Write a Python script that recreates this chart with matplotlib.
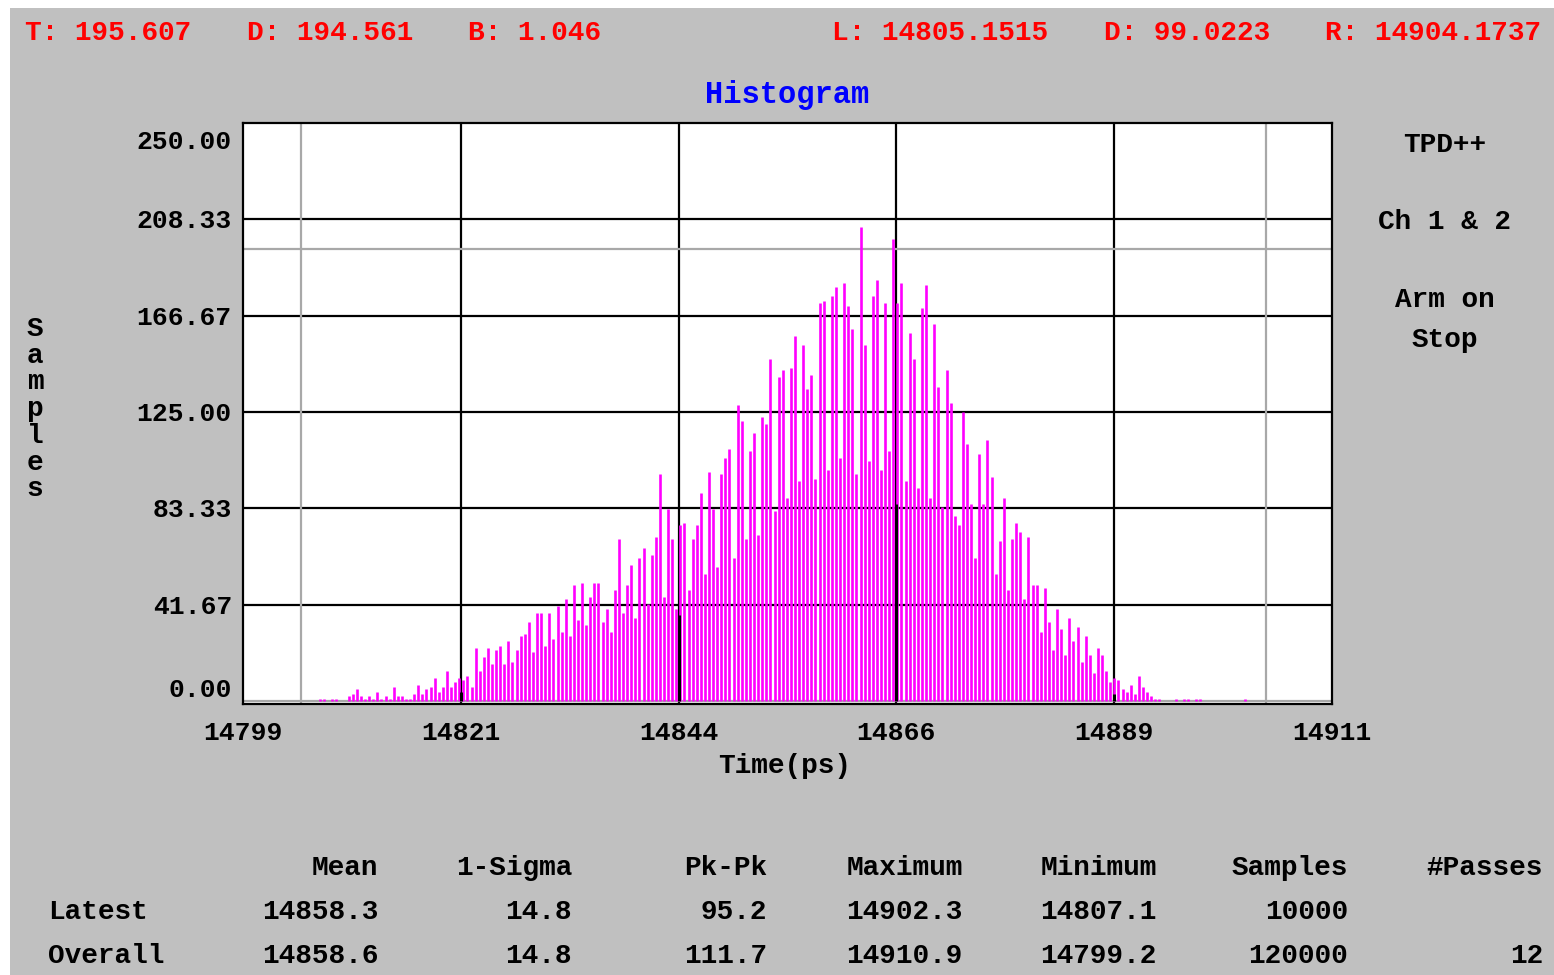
import matplotlib
matplotlib.use("Agg")
import matplotlib.pyplot as plt
from matplotlib.patches import Rectangle
from matplotlib.transforms import blended_transform_factory
import numpy as np

W, H = 1554, 975

# histogram of the latest run: 0.42 ps bins from the latest minimum
bin_start = 14807.1
bin_width = 0.42
counts = [
    1, 1, 0, 1, 1, 0, 0, 2, 3, 5,
    2, 1, 2, 1, 4, 1, 2, 1, 6, 2,
    2, 1, 1, 3, 7, 3, 5, 6, 10, 4,
    6, 13, 6, 8, 10, 9, 11, 6, 23, 13,
    19, 23, 16, 22, 24, 16, 26, 17, 22, 28,
    29, 34, 21, 38, 38, 24, 38, 27, 41, 30,
    44, 28, 50, 35, 51, 33, 45, 51, 51, 34,
    40, 30, 48, 70, 38, 50, 59, 36, 62, 66,
    42, 63, 71, 98, 45, 83, 70, 40, 76, 77,
    48, 70, 76, 90, 55, 99, 83, 58, 98, 105,
    109, 62, 128, 121, 70, 108, 116, 72, 123, 120,
    148, 82, 140, 143, 88, 144, 158, 95, 154, 135,
    141, 96, 172, 173, 100, 175, 179, 105, 181, 171,
    161, 98, 205, 154, 104, 175, 182, 100, 172, 108,
    200, 172, 181, 95, 159, 148, 92, 170, 180, 88,
    163, 136, 84, 143, 129, 80, 76, 125, 111, 85,
    62, 107, 85, 113, 97, 55, 69, 88, 48, 70,
    77, 73, 44, 71, 50, 50, 30, 49, 34, 22,
    40, 31, 20, 36, 26, 32, 17, 28, 20, 12,
    23, 20, 13, 8, 10, 9, 5, 4, 7, 3,
    11, 6, 4, 2, 1, 1, 0, 0, 0, 1,
    0, 1, 1, 0, 1, 1, 0, 0, 0, 0,
    0, 0, 0, 0, 0, 0, 1, 0,
]

# black bars where the histogram sits on the inner vertical grid lines
grid_mark_heights = [4, 37, 85, 3]

t_level = 195.607
l_cursor = 14805.1515
r_cursor = 14904.1737

x_min, x_max = 14799.2, 14910.9
y_max = 250.0
x_tick_labels = ["14799", "14821", "14844", "14866", "14889", "14911"]

readouts = ["T: 195.607", "D: 194.561", "B: 1.046",
            "L: 14805.1515", "D: 99.0223", "R: 14904.1737"]
side_labels = ["TPD++", "Ch 1 & 2", "Arm on", "Stop"]

stat_cols = ["Mean", "1-Sigma", "Pk-Pk", "Maximum", "Minimum", "Samples", "#Passes"]
row_names = ["Latest", "Overall"]
latest = ["14858.3", "14.8", "95.2", "14902.3", "14807.1", "10000", ""]
overall = ["14858.6", "14.8", "111.7", "14910.9", "14799.2", "120000", "12"]

FONT = "Liberation Mono"
GREY = "#A8A8A8"


def fx(x):
    return x / W


def fy(y):
    return 1 - y / H


fig = plt.figure(figsize=(W / 100, H / 100), dpi=100, facecolor="white")
fig.patches.append(Rectangle((fx(10), 0), 1 - fx(10), fy(8), transform=fig.transFigure,
                             facecolor="#C0C0C0", edgecolor="none", zorder=-10))

ax = fig.add_axes([fx(243), fy(704), fx(1332 - 243), (704 - 123) / H])
ax.set_facecolor("white")
ax.set_xlim(x_min, x_max)
ax.set_ylim(-1.3, y_max)

x_ticks = np.linspace(x_min, x_max, 6)
y_ticks = np.linspace(0, y_max, 7)

for x in x_ticks[1:-1]:
    ax.axvline(x, color="black", lw=1.6, zorder=1)
for y in y_ticks[1:-1]:
    ax.axhline(y, color="black", lw=1.6, zorder=1)
ax.axhline(0, color=GREY, lw=1.6, zorder=1)
ax.axhline(t_level, color=GREY, lw=1.6, zorder=1.5)
ax.axvline(l_cursor, color=GREY, lw=1.6, zorder=1.5)
ax.axvline(r_cursor, color=GREY, lw=1.6, zorder=1.5)

centers = bin_start + bin_width * np.arange(len(counts))
ax.vlines(centers, 0, counts, color="#FF00FF", lw=1.9, zorder=3)
ax.vlines(x_ticks[1:-1], 0, grid_mark_heights, color="black", lw=2.2, zorder=4)

for s in ax.spines.values():
    s.set_color("black")
    s.set_linewidth(1.6)

ax.set_xticks(x_ticks, x_tick_labels)
ax.set_yticks(y_ticks, [])
ax.tick_params(length=0)
ax.tick_params(axis="x", pad=12)
for lab in ax.get_xticklabels():
    lab.set_fontfamily(FONT)
    lab.set_fontweight("bold")
    lab.set_fontsize(19)

# y tick labels: the end ones are pulled inside the frame
ytrans = blended_transform_factory(fig.transFigure, ax.transData)
y_label_shift = [-11, 2, 2, 2, 2, 2, 19]
for v, dy in zip(y_ticks, y_label_shift):
    t = ax.text(fx(232), v, f"{v:.2f}", transform=ytrans, ha="right", va="center",
                family=FONT, weight="bold", fontsize=19)
    t.set_transform(ytrans + matplotlib.transforms.ScaledTranslation(0, -dy / 100, fig.dpi_scale_trans))

txt = dict(family=FONT, weight="bold", fontsize=20)

fig.text(fx(787), fy(95), "Histogram", color="#0000FF", ha="center", va="center",
         family=FONT, weight="bold", fontsize=22)
fig.text(fx(785), fy(766), "Time(ps)", color="black", ha="center", va="center", **txt)
for k, ch in enumerate("Samples"):
    fig.text(fx(35), fy(329 + 26.7 * k), ch, color="black", ha="center", va="center", **txt)

for s, x in zip(readouts, [25, 247, 468, 832, 1104, 1325]):
    fig.text(fx(x), fy(33), s, color="#FF0000", ha="left", va="center", **txt)

for s, y in zip(side_labels, [145, 222, 300, 340]):
    fig.text(fx(1445), fy(y), s, color="black", ha="center", va="center", **txt)

col_right = [378, 572, 767, 963, 1157, 1348, 1543]
for s, x in zip(stat_cols, col_right):
    fig.text(fx(x), fy(868), s, ha="right", va="center", **txt)
for row, vals, y in zip(row_names, [latest, overall], [912, 956]):
    fig.text(fx(48), fy(y), row, ha="left", va="center", **txt)
    for s, x in zip(vals, col_right):
        fig.text(fx(x), fy(y), s, ha="right", va="center", **txt)

fig.savefig("out.png", dpi=100, facecolor=fig.get_facecolor())
